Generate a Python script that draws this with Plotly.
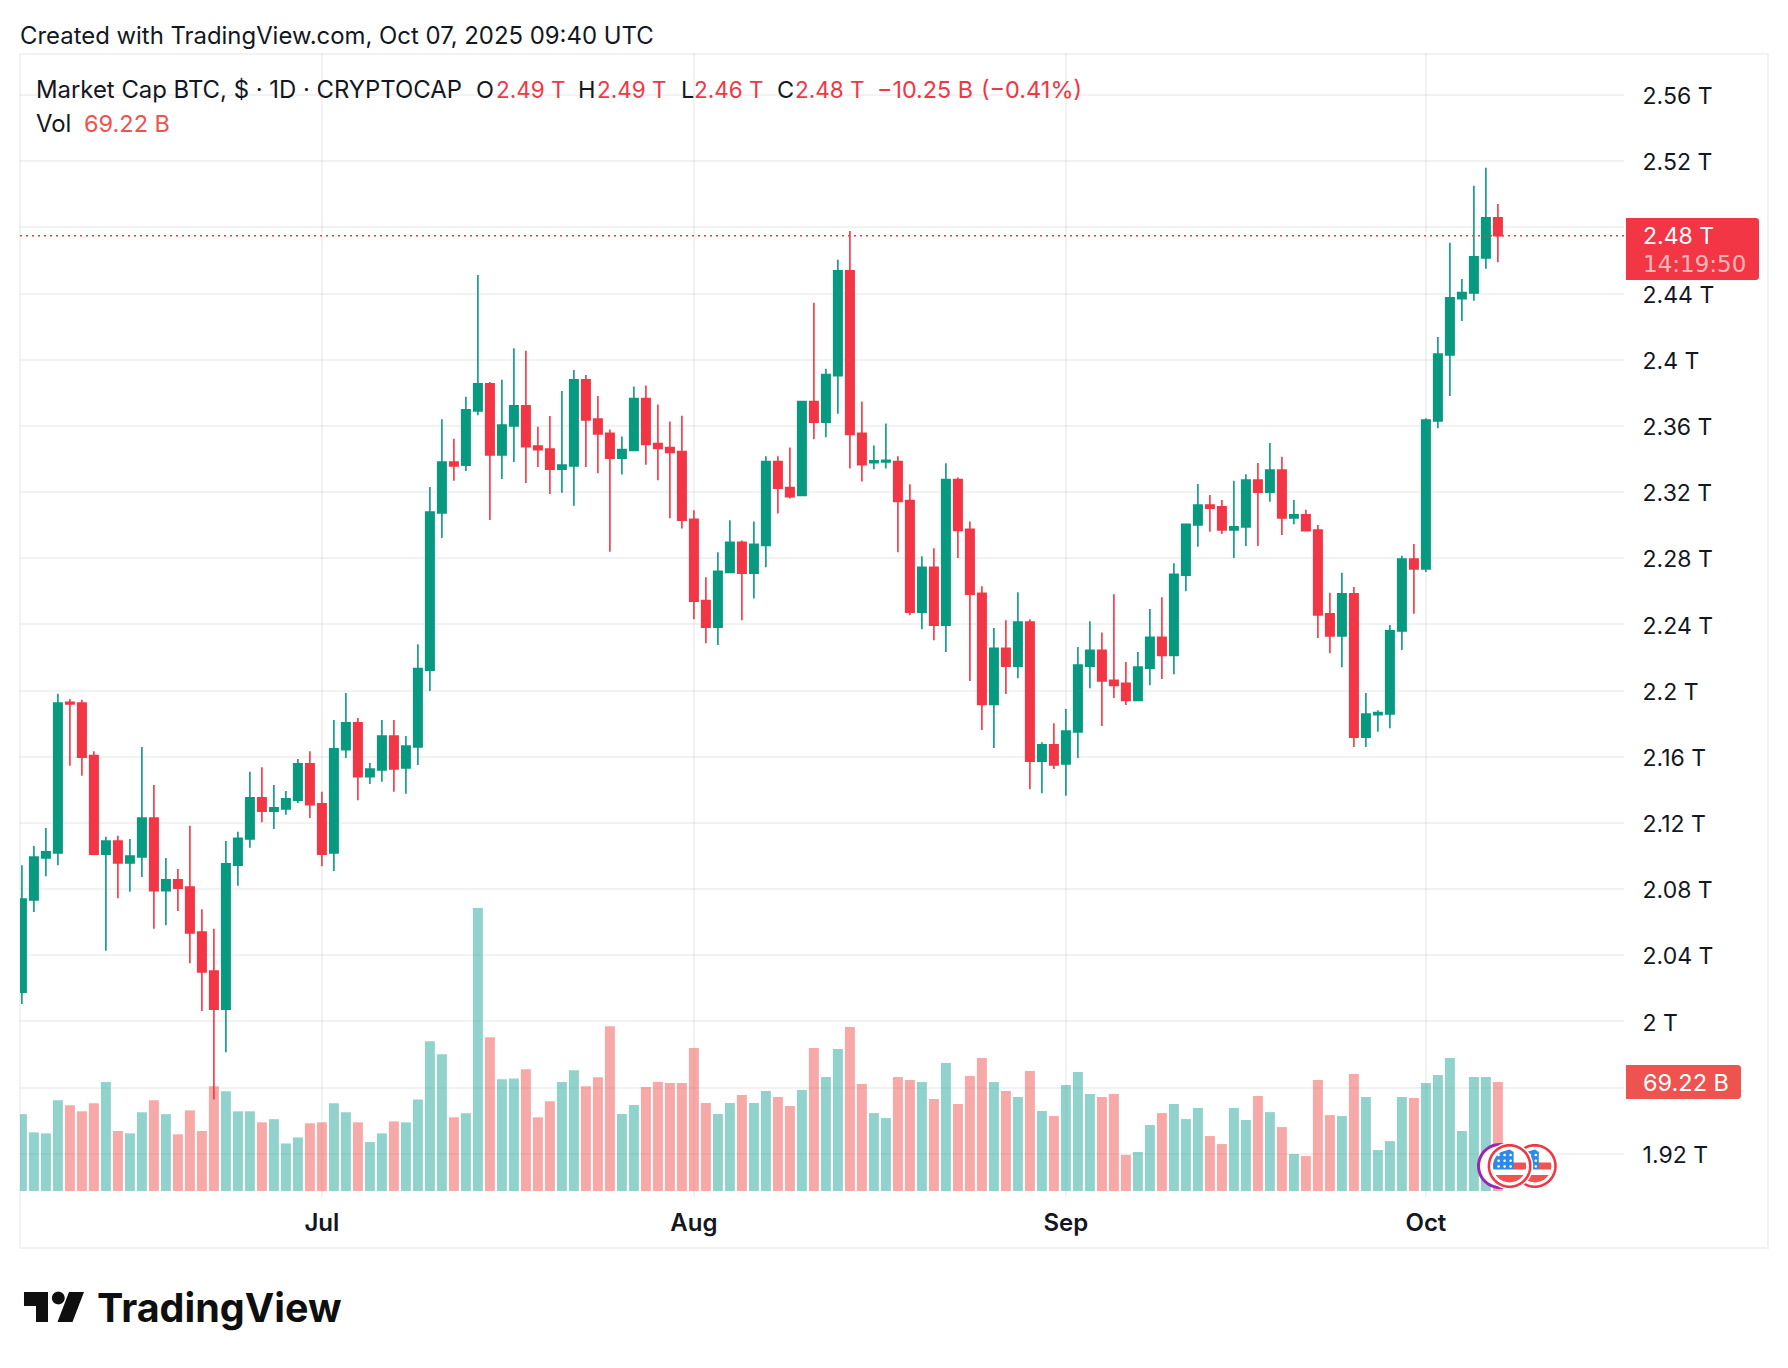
import math
import pandas as pd
import plotly.graph_objects as go

# daily candles, values in trillions of USD
opens = [
    2.0177, 2.0734, 2.0989, 2.1019, 2.193, 2.1925, 2.1607, 2.1011, 2.1091, 2.0958,
    2.0994, 2.123, 2.079, 2.0856, 2.0812, 2.054, 2.0305, 2.0075, 2.0945, 2.1103,
    2.1352, 2.1271, 2.1285, 2.1338, 2.1557, 2.1316, 2.1019, 2.1643, 2.1806, 2.1479,
    2.1521, 2.1726, 2.1532, 2.1659, 2.2124, 2.3074, 2.3382, 2.3363, 2.369, 2.3854,
    2.3425, 2.36, 2.3722, 2.3479, 2.346, 2.3339, 2.3358, 2.3879, 2.3641, 2.3555,
    2.3405, 2.3452, 2.3765, 2.3493, 2.3469, 2.3445, 2.3035, 2.2545, 2.2383, 2.2715,
    2.2896, 2.271, 2.2877, 2.3385, 2.3228, 2.318, 2.3748, 2.3622, 2.3903, 2.4538,
    2.3555, 2.3378, 2.3382, 2.3385, 2.3149, 2.2474, 2.2746, 2.2395, 2.3276, 2.2975,
    2.2588, 2.1917, 2.2256, 2.2147, 2.2414, 2.1574, 2.1672, 2.1557, 2.175, 2.2147,
    2.2244, 2.2063, 2.2044, 2.1941, 2.2135, 2.2323, 2.2213, 2.2698, 2.3001, 2.3122,
    2.3111, 2.2971, 2.299, 2.3273, 2.32, 2.3333, 2.3044, 2.3063, 2.2971, 2.2464,
    2.2331, 2.2585, 2.1719, 2.1854, 2.1859, 2.2361, 2.2796, 2.2736, 2.363, 2.4029,
    2.4369, 2.4404, 2.4615, 2.4858,
]
highs = [
    2.0945, 2.1061, 2.1169, 2.1981, 2.195, 2.1945, 2.1634, 2.1116, 2.1122, 2.1103,
    2.1659, 2.1429, 2.0989, 2.0922, 2.1183, 2.0679, 2.056, 2.1091, 2.1147, 2.151,
    2.1537, 2.1429, 2.1393, 2.1587, 2.1634, 2.1388, 2.1823, 2.1986, 2.1834, 2.1562,
    2.1823, 2.1823, 2.1726, 2.2281, 2.3231, 2.3641, 2.3522, 2.3776, 2.4513, 2.3865,
    2.3879, 2.407, 2.4054, 2.3595, 2.366, 2.3811, 2.3938, 2.3908, 2.3781, 2.3579,
    2.3536, 2.3839, 2.3844, 2.3729, 2.3627, 2.3662, 2.309, 2.2686, 2.2836, 2.303,
    2.2908, 2.3023, 2.3417, 2.3417, 2.3469, 2.3753, 2.4345, 2.3946, 2.4605, 2.4779,
    2.3748, 2.3481, 2.3615, 2.3417, 2.3247, 2.2813, 2.286, 2.3374, 2.3288, 2.3023,
    2.2631, 2.2378, 2.2426, 2.2595, 2.2431, 2.1688, 2.1803, 2.1889, 2.2264, 2.2419,
    2.2352, 2.2583, 2.2173, 2.2233, 2.2493, 2.2564, 2.277, 2.3006, 2.3249, 2.3182,
    2.3152, 2.3268, 2.3308, 2.3376, 2.3497, 2.3414, 2.3152, 2.3093, 2.3001, 2.2591,
    2.2712, 2.2626, 2.1986, 2.1881, 2.2396, 2.2815, 2.2887, 2.3646, 2.4137, 2.4707,
    2.4488, 2.5052, 2.516, 2.4941,
]
lows = [
    2.0105, 2.0662, 2.0878, 2.0945, 2.1546, 2.1485, 2.1011, 2.0427, 2.0745, 2.0784,
    2.0873, 2.056, 2.0582, 2.0668, 2.0352, 2.0064, 1.9529, 1.9814, 2.082, 2.105,
    2.1205, 2.1163, 2.1249, 2.1321, 2.123, 2.0939, 2.0909, 2.1593, 2.1338, 2.1435,
    2.1449, 2.1388, 2.1377, 2.1551, 2.1997, 2.2923, 2.3269, 2.3328, 2.3665, 2.3031,
    2.3279, 2.3382, 2.3255, 2.3352, 2.3188, 2.3196, 2.3117, 2.3352, 2.3314, 2.2839,
    2.3307, 2.3452, 2.3366, 2.3271, 2.3042, 2.298, 2.2431, 2.2287, 2.2276, 2.271,
    2.2426, 2.2557, 2.2746, 2.307, 2.3161, 2.318, 2.3519, 2.3531, 2.3674, 2.3343,
    2.3264, 2.3338, 2.3343, 2.2836, 2.2455, 2.2371, 2.2304, 2.2233, 2.2801, 2.2058,
    2.1762, 2.1653, 2.198, 2.2075, 2.1404, 2.138, 2.1526, 2.1364, 2.1593, 2.2015,
    2.1786, 2.1956, 2.1913, 2.1941, 2.2032, 2.207, 2.2099, 2.26, 2.2869, 2.296,
    2.2947, 2.2801, 2.2874, 2.2874, 2.3141, 2.2941, 2.3006, 2.2966, 2.2318, 2.2226,
    2.2142, 2.1659, 2.1659, 2.1751, 2.1773, 2.2245, 2.2464, 2.2717, 2.3586, 2.3781,
    2.4234, 2.4356, 2.455, 2.459,
]
closes = [
    2.074, 2.0994, 2.1025, 2.1925, 2.192, 2.1598, 2.1011, 2.1091, 2.0958, 2.1,
    2.123, 2.079, 2.0856, 2.0806, 2.0535, 2.0299, 2.0075, 2.0953, 2.1108, 2.1352,
    2.1271, 2.1291, 2.1346, 2.1557, 2.131, 2.1011, 2.1648, 2.1806, 2.1479, 2.1526,
    2.1726, 2.1526, 2.1665, 2.2133, 2.308, 2.3382, 2.3358, 2.3698, 2.3854, 2.3425,
    2.3606, 2.3722, 2.3474, 2.3457, 2.3339, 2.3363, 2.3879, 2.3636, 2.3552, 2.3405,
    2.3457, 2.3765, 2.3488, 2.3464, 2.344, 2.303, 2.254, 2.2383, 2.2722, 2.2896,
    2.271, 2.2884, 2.3385, 2.3223, 2.3173, 2.3748, 2.3622, 2.3911, 2.4538, 2.3548,
    2.3366, 2.339, 2.3392, 2.3144, 2.2474, 2.2746, 2.2395, 2.3276, 2.2968, 2.2583,
    2.1917, 2.2256, 2.2147, 2.2414, 2.1574, 2.1672, 2.155, 2.1755, 2.2154, 2.2244,
    2.2058, 2.2032, 2.1941, 2.2142, 2.2323, 2.2213, 2.2703, 2.3006, 2.3122, 2.3103,
    2.2971, 2.299, 2.3273, 2.32, 2.3333, 2.3044, 2.3063, 2.2966, 2.2458, 2.2331,
    2.2585, 2.1719, 2.1859, 2.1867, 2.2361, 2.2796, 2.2736, 2.3635, 2.4034, 2.4375,
    2.4407, 2.4623, 2.4858, 2.475,
]
# volume in billions
volumes = [
    48.8, 37.2, 36.6, 57.6, 54.4, 50.6, 55.8, 69.2, 38.1, 36.6,
    50.0, 57.6, 48.8, 36.0, 51.2, 38.1, 66.6, 63.4, 50.6, 50.6,
    43.6, 45.6, 30.2, 34.0, 43.0, 43.6, 55.8, 50.0, 43.6, 31.1,
    36.6, 44.2, 43.6, 58.1, 95.1, 86.9, 46.8, 49.4, 179.7, 97.7,
    70.9, 71.5, 77.3, 46.8, 57.0, 69.2, 76.7, 66.6, 72.2, 104.7,
    48.9, 54.6, 66.0, 69.2, 68.6, 68.6, 90.8, 55.9, 48.9, 55.9,
    60.9, 55.9, 63.5, 59.7, 54.0, 64.1, 90.8, 72.4, 90.1, 104.1,
    67.9, 49.5, 46.3, 72.4, 70.5, 69.2, 58.4, 81.3, 55.2, 73.0,
    84.4, 69.2, 63.5, 59.7, 76.2, 50.8, 47.6, 67.3, 75.5, 61.6,
    59.7, 61.6, 22.9, 24.8, 41.9, 49.5, 55.2, 45.7, 52.7, 34.9,
    29.8, 52.7, 45.1, 60.3, 50.1, 40.6, 23.5, 22.2, 70.5, 48.2,
    47.6, 74.3, 59.7, 26.0, 31.7, 59.7, 59.0, 68.6, 73.6, 84.4,
    38.1, 72.4, 72.4, 69.22,
]
dates = pd.date_range("2025-06-06", periods=len(closes), freq="D")

price_ticks = [2.56, 2.52, 2.48, 2.44, 2.40, 2.36, 2.32, 2.28, 2.24, 2.20, 2.16, 2.12, 2.08, 2.04, 2.00, 1.96, 1.92]
price_labels = ["2.56 T", "2.52 T", "", "2.44 T", "2.4 T", "2.36 T", "2.32 T", "2.28 T", "2.24 T", "2.2 T",
                "2.16 T", "2.12 T", "2.08 T", "2.04 T", "2 T", "", "1.92 T"]
month_ticks = ["2025-07-01", "2025-08-01", "2025-09-01", "2025-10-01"]
month_labels = ["Jul", "Aug", "Sep", "Oct"]
last_price = 2.475

GREEN = "#089981"
RED = "#F23645"
TEXT = "#131722"
FONT = "Inter"
GRID = "rgba(0,0,0,0.05)"

# page has an 8px body margin, everything below is in page pixels
OFF = 8
PANE_L, PANE_R, PANE_T, PANE_B = 20, 1624, 54, 1198
PX_PER_DAY = 12
JUL1_X = 321.9
PX_PER_T = 1654.3
Y_252 = 161.25
VOL_BASE_Y = 1191
B_PER_PX = 69.22 / 109


def px(x):
    return (x - PANE_L) / (PANE_R - PANE_L)


def py(y):
    return (PANE_B - y) / (PANE_B - PANE_T)


def label(text, x, y, size, color=TEXT, weight=400, anchor="left", family=FONT):
    fig.add_annotation(text=text, x=px(x), y=py(y), xref="paper", yref="paper", xanchor=anchor, yanchor="middle",
                       showarrow=False, align="left", borderpad=0,
                       font=dict(family=family, size=size, color=color, weight=weight))


def poly(points, fill, line=None, line_width=0):
    path = "M " + " L ".join(f"{px(x):.5f},{py(y):.5f}" for x, y in points) + " Z"
    fig.add_shape(type="path", path=path, xref="paper", yref="paper", fillcolor=fill, layer="above",
                  line=dict(color=line or fill, width=line_width))


def circle(cx, cy, r, fill, line=None, line_width=0):
    pts = [(cx + r * math.cos(a * math.pi / 30), cy + r * math.sin(a * math.pi / 30)) for a in range(60)]
    poly(pts, fill, line, line_width)


def tag(x0, x1, y0, y1, fill, r=3):
    # price tag, square on the axis side and rounded on the outer side
    top = [(x1 - r + r * math.sin(a * math.pi / 8), y0 + r - r * math.cos(a * math.pi / 8)) for a in range(5)]
    bottom = [(x1 - r + r * math.cos(a * math.pi / 8), y1 - r + r * math.sin(a * math.pi / 8)) for a in range(5)]
    poly([(x0, y0)] + top + bottom + [(x0, y1)], fill)


def band(cx, cy, r, y1, y2, x_max=None, color=RED):
    # slice of a circle between two heights, used for the flag stripes
    ys = [y1 + (y2 - y1) * i / 8 for i in range(9)]
    right = [(cx + math.sqrt(max(r * r - (y - cy) ** 2, 0)), y) for y in ys]
    left = [(cx - math.sqrt(max(r * r - (y - cy) ** 2, 0)), y) for y in reversed(ys)]
    if x_max is not None:
        right = [(min(x, x_max), y) for x, y in right]
    poly(right + left, color)


def flag(cx, cy):
    circle(cx, cy, 23.5, "white")
    circle(cx, cy, 20.7, "white", RED, 2.6)
    r = 16.5
    band(cx, cy, r, cy - 3.5, cy + 3.5, color="#F25252")
    band(cx, cy, r, cy + 9, cy + 16.5, color="#F25252")
    band(cx, cy, r, cy - 16.5, cy + 3, x_max=cx + 4, color="#2A8BEB")
    for row in range(3):
        for col in range(3):
            circle(cx - 11 + col * 6, cy - 11 + row * 5.7, 1.3, "white")


fig = go.Figure()

vol_colors = ["rgba(38,166,154,0.5)" if c >= o else "rgba(239,83,80,0.5)" for o, c in zip(opens, closes)]
fig.add_trace(go.Bar(x=dates, y=volumes, marker=dict(color=vol_colors, line_width=0), yaxis="y", showlegend=False))
fig.add_trace(go.Candlestick(
    x=dates, open=opens, high=highs, low=lows, close=closes, yaxis="y2", whiskerwidth=0, showlegend=False,
    increasing=dict(line=dict(color=GREEN, width=1.6), fillcolor=GREEN),
    decreasing=dict(line=dict(color=RED, width=1.6), fillcolor=RED),
))

jul1 = pd.Timestamp("2025-07-01")
x_start = jul1 + pd.Timedelta(days=(PANE_L - JUL1_X) / PX_PER_DAY)
x_end = jul1 + pd.Timedelta(days=(PANE_R - JUL1_X) / PX_PER_DAY)

fig.update_layout(
    width=1788 - 2 * OFF,
    height=1368 - 2 * OFF,
    autosize=False,
    margin=dict(l=PANE_L - OFF, r=1788 - OFF - PANE_R, t=PANE_T - OFF, b=1368 - OFF - PANE_B, pad=0),
    paper_bgcolor="white",
    plot_bgcolor="white",
    bargap=0.17,
    boxgap=0.3,
    boxgroupgap=0.0,
    showlegend=False,
    font=dict(family=FONT, color=TEXT),
    xaxis=dict(
        type="date", range=[x_start, x_end], rangeslider=dict(visible=False),
        tickvals=month_ticks, ticktext=month_labels, ticks="outside", ticklen=3, tickcolor="rgba(0,0,0,0)",
        tickfont=dict(family=FONT, size=24, color=TEXT, weight=600), showgrid=True, gridcolor=GRID, gridwidth=2,
        showline=False, zeroline=False,
    ),
    yaxis=dict(
        range=[(VOL_BASE_Y - PANE_B) * B_PER_PX, (VOL_BASE_Y - PANE_T) * B_PER_PX],
        showgrid=False, showticklabels=False, ticks="", zeroline=False, showline=False,
    ),
    yaxis2=dict(
        overlaying="y", side="right",
        range=[2.52 - (PANE_B - Y_252) / PX_PER_T, 2.52 + (Y_252 - PANE_T) / PX_PER_T],
        tickvals=price_ticks, ticktext=price_labels, ticks="outside", ticklen=13, tickcolor="rgba(0,0,0,0)",
        ticklabelshift=1,
        tickfont=dict(family=FONT, size=23, color=TEXT), showgrid=True, gridcolor=GRID, gridwidth=2,
        zeroline=False, showline=False,
    ),
)

# frame around chart
fig.add_shape(type="rect", xref="paper", yref="paper", x0=px(20), x1=px(1768), y0=py(54), y1=py(1248),
              line=dict(color="#F2F2F2", width=2), layer="below")

# last price line and labels
fig.add_shape(type="line", xref="paper", yref="y2", x0=0, x1=1, y0=last_price, y1=last_price, layer="above",
              line=dict(color=RED, width=1.5, dash="2px,4px"))
tag(1626, 1759, 218, 280, RED)
tag(1626, 1741, 1065, 1099, "#EF5350")
label("2.48 T", 1642, 236.5, 23, "white")
label("14:19:50", 1642, 264, 23, "rgba(255,255,255,0.65)", family="DejaVu Sans")
label("69.22 B", 1642, 1082, 23.5, "white")

# earnings style event flags
circle(1500, 1166, 21.5, "white", "#9C27B0", 3)
flag(1534.8, 1166)
flag(1509.6, 1166)

# header text
label("Created with TradingView.com, Oct 07, 2025 09:40 UTC", 19, 35.7, 23.9)
label("Market Cap BTC, $ · 1D · CRYPTOCAP", 35, 89.7, 23.9)
for letter, value, lx, vx in [("O", "2.49 T", 475, 495), ("H", "2.49 T", 577, 596),
                              ("L", "2.46 T", 680, 693), ("C", "2.48 T", 776, 794)]:
    label(letter, lx, 89.7, 23.5)
    label(value, vx, 89.7, 22.5, RED)
label("−10.25 B", 876, 89.7, 23.3, RED)
label("(−0.41%)", 980, 89.7, 23.5, RED)
label("Vol", 35, 124, 23.9)
label("69.22 B", 83, 124, 23.5, "#EF5350")

# logo
poly([(24, 1292), (48, 1292), (48, 1322), (36, 1322), (36, 1306), (24, 1306)], "#0F0F0F")
circle(58.3, 1298, 6.4, "#0F0F0F")
poly([(69, 1292), (84, 1292), (72.5, 1322), (57.5, 1322)], "#0F0F0F")
label("TradingView", 96, 1307.5, 39.5, "#0F0F0F", weight=700)

fig.write_html("out.html")
